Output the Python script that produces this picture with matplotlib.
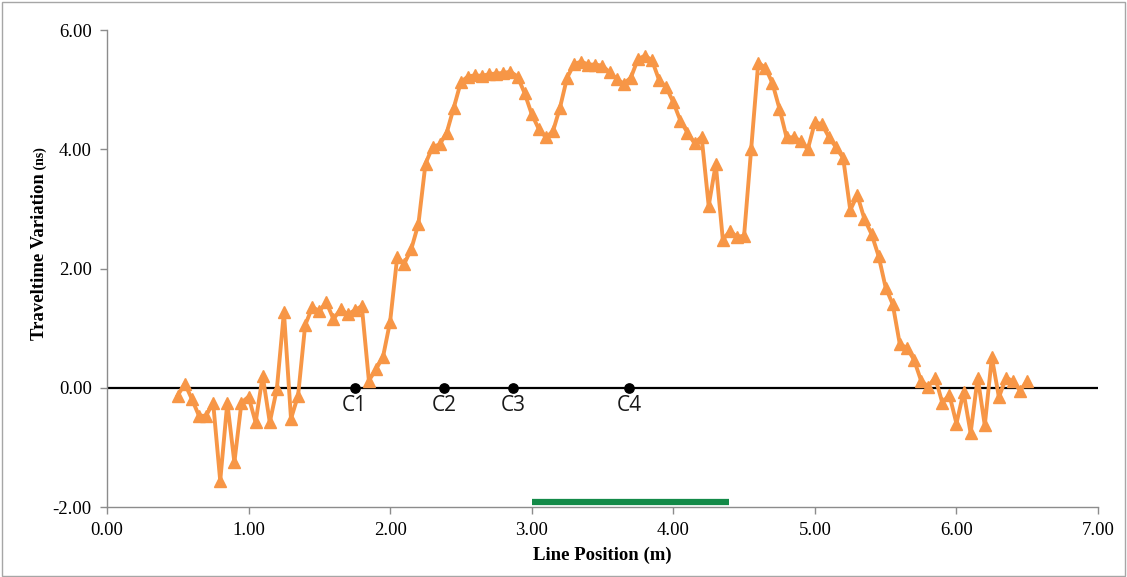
import matplotlib
matplotlib.use('Agg')
import matplotlib.pyplot as plt
import numpy as np
from matplotlib.patches import Rectangle

# --- данные ---
positions = np.round(np.arange(0.50, 6.501, 0.05), 2)
traveltime = [
    -0.13, 0.07, -0.19, -0.47, -0.47, -0.25, -1.56, -0.25, -1.25, -0.25,
    -0.15, -0.58, 0.20, -0.58, -0.02, 1.27, -0.52, -0.13, 1.05, 1.35,
    1.29, 1.43, 1.15, 1.32, 1.23, 1.30, 1.37, 0.12, 0.31, 0.52,
    1.11, 2.19, 2.08, 2.33, 2.75, 3.76, 4.04, 4.08, 4.28, 4.70,
    5.13, 5.22, 5.24, 5.23, 5.26, 5.27, 5.28, 5.30, 5.22, 4.94,
    4.59, 4.34, 4.20, 4.30, 4.70, 5.20, 5.43, 5.47, 5.42, 5.42,
    5.40, 5.29, 5.18, 5.10, 5.20, 5.51, 5.57, 5.49, 5.16, 5.04,
    4.79, 4.48, 4.28, 4.10, 4.21, 3.05, 3.75, 2.48, 2.63, 2.53,
    2.55, 4.00, 5.45, 5.37, 5.11, 4.68, 4.20, 4.20, 4.14, 4.00,
    4.45, 4.42, 4.20, 4.03, 3.85, 2.98, 3.23, 2.83, 2.58, 2.21,
    1.68, 1.40, 0.73, 0.67, 0.47, 0.12, 0.02, 0.17, -0.25, -0.12,
    -0.60, -0.07, -0.76, 0.17, -0.63, 0.51, -0.16, 0.17, 0.11, -0.05,
    0.12,
]
crack_labels = ['C1', 'C2', 'C3', 'C4']
crack_pos = [1.75, 2.38, 2.87, 3.69]
bar_start, bar_end = 3.00, 4.39
xticks = [0, 1, 2, 3, 4, 5, 6, 7]
yticks = [-2, 0, 2, 4, 6]

ORANGE = '#F79646'
GREEN = '#138A48'
GRAY = '#8C8C8C'
SERIF = 'Liberation Serif'

fig = plt.figure(figsize=(11.27, 5.77), dpi=100)
fig.patch.set_facecolor('white')
fig.add_artist(Rectangle((0.002, 0.002), 0.996, 0.995, transform=fig.transFigure,
                         fill=False, ec='#A6A6A6', lw=1.0))

ax = fig.add_axes([0.0949, 0.1213, 0.8794, 0.8267])
ax.set_xlim(0, 7)
ax.set_ylim(-2, 6)

# нулевая линия
ax.plot([0, 7], [0, 0], color='black', lw=1.6, zorder=2)

# основная кривая
ax.plot(positions, traveltime, color=ORANGE, lw=2.8, marker='^', ms=9,
        mfc=ORANGE, mec=ORANGE, zorder=4, clip_on=False)

# точки C1..C4
ax.scatter(crack_pos, [0] * len(crack_pos), s=45, color='black', zorder=5)
for lbl, xp in zip(crack_labels, crack_pos):
    ax.text(xp, -0.12, lbl, ha='center', va='top', fontsize=15,
            family='Open Sans', color='#1a1a1a', zorder=5)

# зелёная полоса
ax.plot([bar_start, bar_end], [-1.92, -1.92], color=GREEN, lw=4.5,
        solid_capstyle='butt', zorder=3)

ax.set_xticks(xticks)
ax.set_yticks(yticks)
ax.set_xticklabels([f'{v:.2f}' for v in xticks], family=SERIF, fontsize=13.5)
ax.set_yticklabels([f'{v:.2f}' for v in yticks], family=SERIF, fontsize=13.5)
ax.tick_params(direction='out', length=5, width=1, color=GRAY, pad=6)

for s in ['top', 'right']:
    ax.spines[s].set_visible(False)
for s in ['left', 'bottom']:
    ax.spines[s].set_color(GRAY)
    ax.spines[s].set_linewidth(1.0)

ax.set_xlabel('Line Position (m)', family=SERIF, fontsize=13.5,
              fontweight='bold', labelpad=5)

# подпись оси Y с маленьким (ns)
t1 = fig.text(40 / 1127, 1 - 340 / 577, 'Traveltime Variation', rotation=90,
              ha='center', va='bottom', family=SERIF, fontsize=13.5,
              fontweight='bold')
fig.canvas.draw()
ax.annotate(' (ns)', xy=(0.5, 1.0), xycoords=t1, rotation=90, ha='center',
            va='bottom', family=SERIF, fontsize=10, fontweight='bold',
            annotation_clip=False)

fig.savefig('out.png', dpi=100)
